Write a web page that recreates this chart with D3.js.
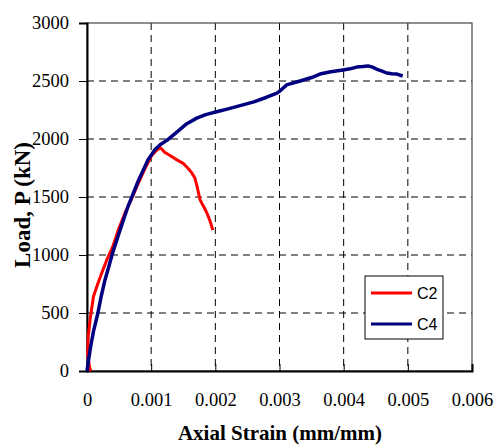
<!DOCTYPE html>
<html>
<head>
<meta charset="utf-8">
<script src="https://cdn.jsdelivr.net/npm/d3@7"></script>
<style>
  body { margin: 0; background: #fff; }
  #chart { width: 497px; height: 445px; }
</style>
</head>
<body>
<div id="chart"></div>
<script>
// strain (mm/mm), load (kN)
const c2Strain = [0.00006, 0.00004, 0.00001, 0.00002, 0.00005, 0.00010, 0.00016, 0.00023, 0.00031, 0.00040, 0.00049, 0.00059, 0.00070, 0.00080, 0.00090, 0.00101, 0.00108, 0.00114, 0.00117, 0.00121, 0.00130, 0.00140, 0.00150, 0.00157, 0.00163, 0.00168, 0.00172, 0.00176, 0.00179, 0.00183, 0.00187, 0.00192, 0.00196];
const c2Load   = [0,       30,      150,     300,     450,     640,     740,     845,     960,     1070,    1220,    1360,    1490,    1620,    1740,    1860,    1900,    1925,    1910,    1885,    1855,    1820,    1790,    1750,    1710,    1665,    1580,    1480,    1445,    1405,    1360,    1290,    1215];

const c4Strain = [0, 0.00005, 0.00010, 0.00017, 0.00022, 0.00028, 0.00034, 0.00040, 0.00050, 0.00064, 0.00080, 0.00095, 0.00106, 0.00114, 0.00125, 0.00140, 0.00155, 0.00171, 0.00185, 0.00202, 0.00220, 0.00240, 0.00260, 0.00280, 0.00296, 0.00302, 0.00311, 0.00332, 0.00350, 0.00363, 0.00380, 0.00399, 0.00410, 0.00420, 0.00430, 0.00438, 0.00445, 0.00451, 0.00460, 0.00467, 0.00475, 0.00483, 0.00492];
const c4Load   = [0, 190,     340,     500,     640,     785,     900,     1020,    1190,    1420,    1640,    1820,    1910,    1950,    1990,    2060,    2130,    2180,    2210,    2235,    2260,    2290,    2320,    2360,    2395,    2420,    2466,    2500,    2530,    2560,    2580,    2595,    2605,    2620,    2625,    2630,    2620,    2603,    2585,    2569,    2562,    2560,    2543];

const xTicks = [0, 0.001, 0.002, 0.003, 0.004, 0.005, 0.006];
const yTicks = [0, 500, 1000, 1500, 2000, 2500, 3000];
const seriesNames = ["C2", "C4"];
const seriesColors = ["#ff0000", "#000080"];

const svg = d3.select('#chart')
  .append('svg')
  .attr('width', 497)
  .attr('height', 445);

const plotL = 87, plotR = 472, plotT = 23, plotB = 371;
const serif = '"Liberation Serif", "Times New Roman", serif';

const x = d3.scaleLinear().domain([0, 0.006]).range([plotL, plotR]);
const y = d3.scaleLinear().domain([0, 3000]).range([plotB, plotT]);

// dashed grid
svg.append('g')
  .selectAll('line')
  .data(xTicks.slice(1, -1))
  .join('line')
  .attr('x1', d => x(d)).attr('x2', d => x(d))
  .attr('y1', plotT).attr('y2', plotB)
  .attr('stroke', '#000')
  .attr('stroke-width', 1)
  .attr('stroke-dasharray', '7,5');

svg.append('g')
  .selectAll('line')
  .data(yTicks.slice(1, -1))
  .join('line')
  .attr('x1', plotL).attr('x2', plotR)
  .attr('y1', d => y(d)).attr('y2', d => y(d))
  .attr('stroke', '#000')
  .attr('stroke-width', 1)
  .attr('stroke-dasharray', '7,5');

// plot border
svg.append('rect')
  .attr('x', plotL).attr('y', plotT)
  .attr('width', plotR - plotL).attr('height', plotB - plotT)
  .attr('fill', 'none')
  .attr('stroke', '#444')
  .attr('stroke-width', 1.2);

// axes
const xAxis = svg.append('g')
  .attr('transform', `translate(0,${plotB})`)
  .call(d3.axisBottom(x).tickValues(xTicks).tickSize(-7).tickPadding(22)
    .tickFormat(d => d === 0 ? '0' : d3.format('.3f')(d)));
xAxis.select('.domain').attr('stroke', '#000').attr('stroke-width', 2);

const yAxis = svg.append('g')
  .attr('transform', `translate(${plotL},0)`)
  .call(d3.axisLeft(y).tickValues(yTicks).tickSize(8).tickPadding(10)
    .tickFormat(d3.format('d')));
yAxis.select('.domain').attr('stroke', '#000').attr('stroke-width', 2);

[xAxis, yAxis].forEach(ax => {
  ax.attr('font-family', null).attr('font-size', null);
  ax.selectAll('.tick text')
    .style('font-family', serif)
    .style('font-size', '18.5px')
    .attr('fill', '#000');
});

// axis titles
svg.append('text')
  .attr('x', 280).attr('y', 440)
  .attr('text-anchor', 'middle')
  .style('font-family', serif)
  .style('font-weight', 'bold')
  .style('font-size', '21px')
  .text('Axial Strain (mm/mm)');

svg.append('text')
  .attr('transform', 'translate(30,205) rotate(-90)')
  .attr('text-anchor', 'middle')
  .style('font-family', serif)
  .style('font-weight', 'bold')
  .style('font-size', '23px')
  .text('Load, P (kN)');

// curves
const line = d3.line()
  .x(d => x(d[0]))
  .y(d => y(d[1]))
  .curve(d3.curveLinear);

const c2 = d3.zip(c2Strain, c2Load);
const c4 = d3.zip(c4Strain, c4Load);

svg.append('path')
  .datum(c2)
  .attr('d', line)
  .attr('fill', 'none')
  .attr('stroke', seriesColors[0])
  .attr('stroke-width', 3)
  .attr('stroke-linejoin', 'round');

svg.append('path')
  .datum(c4)
  .attr('d', line)
  .attr('fill', 'none')
  .attr('stroke', seriesColors[1])
  .attr('stroke-width', 3.5)
  .attr('stroke-linejoin', 'round');

// legend
const lg = svg.append('g').attr('transform', 'translate(365,276)');
lg.append('rect')
  .attr('width', 78).attr('height', 63)
  .attr('fill', '#fff')
  .attr('stroke', '#000')
  .attr('stroke-width', 1);

seriesNames.forEach((name, i) => {
  const yy = 17 + i * 31;
  lg.append('line')
    .attr('x1', 6).attr('x2', 47)
    .attr('y1', yy).attr('y2', yy)
    .attr('stroke', seriesColors[i])
    .attr('stroke-width', 3);
  lg.append('text')
    .attr('x', 52).attr('y', yy + 6)
    .style('font-family', '"Liberation Sans", Arial, sans-serif')
    .style('font-size', '16px')
    .text(name);
});
</script>
</body>
</html>
